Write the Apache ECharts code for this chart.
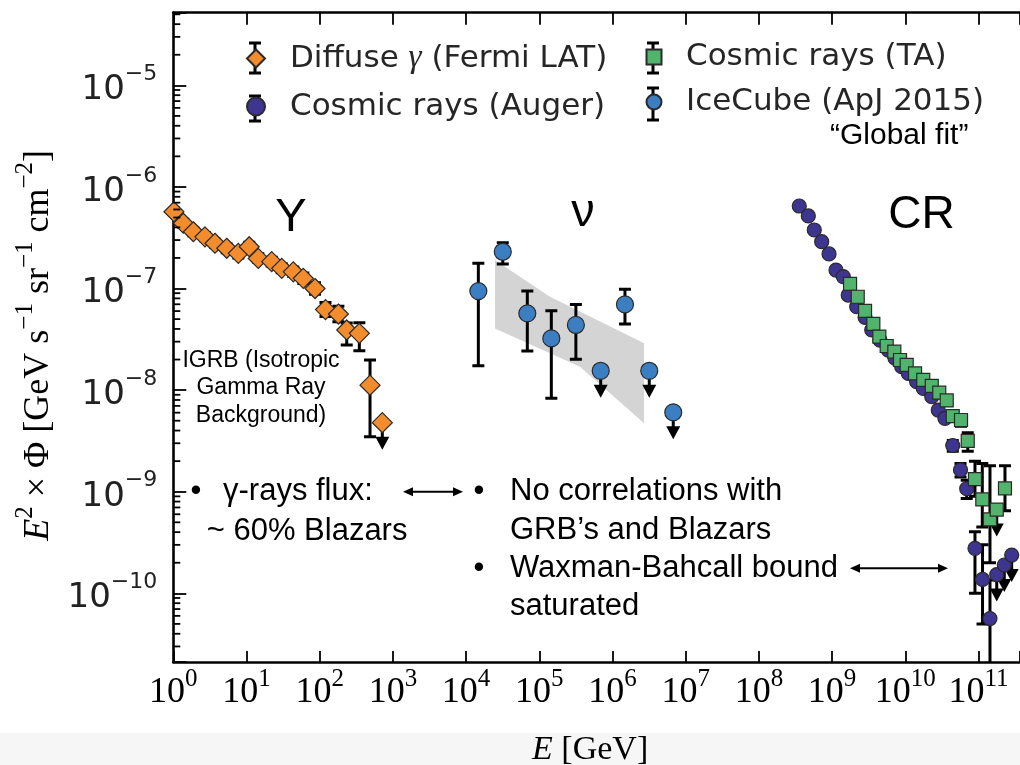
<!DOCTYPE html>
<html><head><meta charset="utf-8">
<script src="https://cdn.jsdelivr.net/npm/echarts@6/dist/echarts.min.js"></script>
<style>html,body{margin:0;padding:0;background:#fff}#c{width:1020px;height:765px}</style>
</head><body><div id="c"></div>
<script>
// ---------------- data (E in GeV, E^2 Phi in GeV s^-1 sr^-1 cm^-2) ----------------
const fermiE  = [1.02, 1.37, 1.88, 2.71, 3.71, 5.37, 7.73, 10.9, 14.5, 22.1, 30.3, 43.6, 59.7, 86.3, 120, 180, 234, 348, 487];
const fermiF  = [5.70e-7, 4.39e-7, 3.62e-7, 3.23e-7, 2.79e-7, 2.49e-7, 2.22e-7, 2.58e-7, 1.98e-7, 1.84e-7, 1.58e-7, 1.46e-7, 1.26e-7, 1.00e-7, 6.21e-8, 5.61e-8, 3.91e-8, 3.62e-8, 1.12e-8];
const fermiLo = [5.2e-7, 4.0e-7, 3.3e-7, 2.95e-7, 2.55e-7, 2.25e-7, 2.0e-7, 2.35e-7, 1.8e-7, 1.67e-7, 1.43e-7, 1.31e-7, 1.12e-7, 8.8e-8, 5.3e-8, 4.7e-8, 2.78e-8, 2.44e-8, 3.48e-9];
const fermiHi = [6.2e-7, 4.8e-7, 3.95e-7, 3.55e-7, 3.05e-7, 2.75e-7, 2.45e-7, 2.85e-7, 2.2e-7, 2.03e-7, 1.75e-7, 1.63e-7, 1.42e-7, 1.14e-7, 7.3e-8, 6.7e-8, 4.57e-8, 4.60e-8, 1.98e-8];
const fermiUlE = [717];
const fermiUlF = [4.78e-9];

const iceE  = [1.47e4, 3.17e4, 6.86e4, 1.46e5, 3.16e5, 1.48e6];
const iceF  = [9.44e-8, 2.30e-7, 5.70e-8, 3.23e-8, 4.38e-8, 6.98e-8];
const iceLo = [1.74e-8, 1.74e-7, 2.43e-8, 8.30e-9, 2.01e-8, 4.48e-8];
const iceHi = [1.77e-7, 2.82e-7, 9.44e-8, 6.05e-8, 6.98e-8, 9.82e-8];
const iceUlE = [6.90e5, 3.18e6, 6.76e6];
const iceUlF = [1.55e-8, 1.55e-8, 6.04e-9];

const fitUpE = [2.48e4, 1.40e5, 2.70e6];
const fitUpF = [1.91e-7, 8.3e-8, 2.89e-8];
const fitLoE = [2.48e4, 3.6e5, 2.70e6];
const fitLoF = [4.05e-8, 1.70e-8, 4.71e-9];

const augerE = [3.56e8, 4.73e8, 5.71e8, 7.21e8, 9.08e8, 1.13e9, 1.42e9, 1.66e9, 2.17e9, 2.82e9, 3.48e9, 4.51e9, 5.86e9, 7.23e9, 8.93e9, 1.10e10, 1.43e10, 1.76e10, 2.30e10, 2.82e10, 3.48e10, 4.45e10, 5.68e10, 6.90e10, 8.95e10, 1.135e11, 1.435e11];
const augerF = [6.49e-7, 5.18e-7, 3.77e-7, 2.89e-7, 2.19e-7, 1.52e-7, 1.31e-7, 8.63e-8, 6.62e-8, 5.21e-8, 3.91e-8, 3.11e-8, 2.48e-8, 2.06e-8, 1.70e-8, 1.46e-8, 1.21e-8, 1.04e-8, 8.61e-9, 6.37e-9, 5.27e-9, 2.85e-9, 1.64e-9, 1.07e-9, 2.77e-10, 1.37e-10, 5.65e-11];
const augerErrE  = [4.45e10, 5.68e10, 6.90e10, 8.95e10, 1.135e11, 1.435e11];
const augerErrLo = [2.5e-9, 1.4e-9, 8.6e-10, 1.0e-10, 5.0e-11, 1.0e-12];
const augerErrHi = [3.2e-9, 1.9e-9, 1.3e-9, 4.04e-10, 3.0e-10, 1.35e-10];
const augerUlE = [1.775e11, 2.25e11, 2.84e11];
const augerUlF = [1.53e-10, 1.90e-10, 2.38e-10];

const taE = [1.76e9, 2.24e9, 2.82e9, 3.66e9, 4.42e9, 5.57e9, 7.08e9, 8.47e9, 1.045e10, 1.36e10, 1.76e10, 2.30e10, 2.91e10, 3.68e10, 4.45e10, 5.77e10, 7.13e10, 8.95e10, 1.127e11, 1.435e11, 2.30e11];
const taF = [1.11e-7, 8.30e-8, 6.04e-8, 4.48e-8, 3.36e-8, 2.72e-8, 2.39e-8, 1.98e-8, 1.77e-8, 1.46e-8, 1.26e-8, 1.10e-8, 9.46e-9, 7.91e-9, 5.56e-9, 5.08e-9, 3.16e-9, 1.33e-9, 8.41e-10, 5.35e-10, 1.08e-9];
const taErrE  = [4.45e10, 5.77e10, 7.13e10, 8.95e10, 1.127e11, 1.435e11, 2.30e11];
const taErrLo = [4.9e-9, 4.4e-9, 2.5e-9, 9.0e-10, 4.5e-10, 2.0e-10, 6.5e-10];
const taErrHi = [6.1e-9, 5.6e-9, 3.8e-9, 2.0e-9, 1.9e-9, 1.8e-9, 1.8e-9];
const taUlE = [1.775e11];
const taUlF = [6.68e-10];

const xTickExps = [0,1,2,3,4,5,6,7,8,9,10,11];
const yTickExps = [-10,-9,-8,-7,-6,-5];
const seriesNames = ['Diffuse γ (Fermi LAT)', 'Cosmic rays (Auger)', 'Cosmic rays (TA)', 'IceCube (ApJ 2015)'];

// ---------------- helpers ----------------
const L = Math.log10;
const X_MIN = 0, X_MAX = 11.567, Y_MIN = -10.676, Y_MAX = -4.285;
const SANS = '"Liberation Sans", Arial, sans-serif';
const SERIF = '"Liberation Serif", "DejaVu Serif", serif';
const DJ = '"DejaVu Sans", sans-serif';

function pts(E, F) { return E.map((e, i) => [L(e), L(F[i])]); }

function errSeries(E, lo, hi, z) {
  return {
    type: 'custom', silent: true, clip: true, z: z,
    data: E.map((e, i) => [L(e), L(lo[i]), L(hi[i])]),
    encode: { x: 0, y: [1, 2] },
    renderItem: function (params, api) {
      const x = api.value(0);
      const p1 = api.coord([x, api.value(1)]);
      const p2 = api.coord([x, api.value(2)]);
      const cw = 6, st = { stroke: '#000', lineWidth: 3 };
      return { type: 'group', children: [
        { type: 'line', shape: { x1: p1[0], y1: p1[1], x2: p2[0], y2: p2[1] }, style: st },
        { type: 'line', shape: { x1: p1[0] - cw, y1: p1[1], x2: p1[0] + cw, y2: p1[1] }, style: st },
        { type: 'line', shape: { x1: p2[0] - cw, y1: p2[1], x2: p2[0] + cw, y2: p2[1] }, style: st }
      ]};
    }
  };
}
function ulSeries(E, F, z) {
  return {
    type: 'custom', silent: true, clip: true, z: z,
    data: pts(E, F), encode: { x: 0, y: 1 },
    renderItem: function (params, api) {
      const p = api.coord([api.value(0), api.value(1)]);
      return { type: 'group', children: [
        { type: 'line', shape: { x1: p[0], y1: p[1], x2: p[0], y2: p[1] + 16 }, style: { stroke: '#000', lineWidth: 3 } },
        { type: 'polygon', shape: { points: [[p[0] - 7, p[1] + 14], [p[0] + 7, p[1] + 14], [p[0], p[1] + 27]] }, style: { fill: '#000' } }
      ]};
    }
  };
}
function scatter(name, E, F, symbol, size, color, z) {
  return {
    type: 'scatter', name: name, data: pts(E, F), symbol: symbol, symbolSize: size, z: z,
    itemStyle: { color: color, borderColor: '#2a2a2a', borderWidth: 1.2, opacity: 1 },
    emphasis: { disabled: true }
  };
}

const bandPoly = pts(fitUpE, fitUpF).concat(pts(fitLoE, fitLoF).reverse());
const bandSeries = {
  type: 'custom', silent: true, clip: true, z: 1,
  data: bandPoly, encode: { x: 0, y: 1 },
  renderItem: function (params, api) {
    if (params.dataIndex !== 0) return null;
    const poly = bandPoly.map(p => api.coord(p));
    return { type: 'polygon', shape: { points: poly }, style: { fill: '#d4d4d4' } };
  }
};

const minorVals = [];
for (let n = -11; n <= -5; n++) for (let k = 2; k <= 9; k++) {
  const v = n + L(k);
  if (v > Y_MIN && v < Y_MAX) minorVals.push([X_MIN, v]);
}
const minorSeries = {
  type: 'custom', silent: true, z: 6, data: minorVals, encode: { x: 0, y: 1 },
  renderItem: function (params, api) {
    const p = api.coord([api.value(0), api.value(1)]);
    return { type: 'line', shape: { x1: p[0], y1: p[1], x2: p[0] + 7, y2: p[1] }, style: { stroke: '#000', lineWidth: 1.8 } };
  }
};

function errbarG(x, y1, y2) {
  const st = { stroke: '#000', lineWidth: 3 };
  return [
    { type: 'line', shape: { x1: x, y1: y1, x2: x, y2: y2 }, style: st, z: 1 },
    { type: 'line', shape: { x1: x - 6, y1: y1, x2: x + 6, y2: y1 }, style: st, z: 1 },
    { type: 'line', shape: { x1: x - 6, y1: y2, x2: x + 6, y2: y2 }, style: st, z: 1 }
  ];
}
function txt(x, y, text, size, align, extra) {
  return Object.assign({ type: 'text', x: x, y: y, z: 20, silent: true,
    style: { text: text, fontFamily: SANS, fontSize: size, fill: '#000', align: align || 'left', verticalAlign: 'middle' } }, extra || {});
}
function dblArrow(x1, x2, y) {
  return [
    { type: 'line', shape: { x1: x1 + 6, y1: y, x2: x2 - 6, y2: y }, style: { stroke: '#000', lineWidth: 2 }, z: 20 },
    { type: 'polygon', shape: { points: [[x1, y], [x1 + 10, y - 4.5], [x1 + 10, y + 4.5]] }, style: { fill: '#000' }, z: 20 },
    { type: 'polygon', shape: { points: [[x2, y], [x2 - 10, y - 4.5], [x2 - 10, y + 4.5]] }, style: { fill: '#000' }, z: 20 }
  ];
}

const xLabelRich = {
  b: { fontFamily: SERIF, fontSize: 36, color: '#000', lineHeight: 44, verticalAlign: 'bottom' },
  s: { fontFamily: SERIF, fontSize: 25, color: '#000', lineHeight: 25, verticalAlign: 'top' }
};
const yLabelRich = {
  b: { fontFamily: DJ, fontSize: 34, color: '#222', lineHeight: 44, verticalAlign: 'bottom' },
  s: { fontFamily: DJ, fontSize: 22, color: '#222', lineHeight: 22, verticalAlign: 'top' }
};
const isInt = v => Math.abs(v - Math.round(v)) < 1e-6;

const legendRich = {
  sp: { width: 20 },
  t: { fontFamily: DJ, fontSize: 31, color: '#262626', lineHeight: 32 },
  g: { fontFamily: SERIF, fontStyle: 'italic', fontSize: 33, color: '#262626', lineHeight: 32 }
};
function legendFmt(name) {
  if (name.indexOf('γ') >= 0) {
    const parts = name.split('γ');
    return '{sp| }{t|' + parts[0] + '}{g|γ}{t|' + parts[1] + '}';
  }
  return '{sp| }{t|' + name + '}';
}

const option = {
  backgroundColor: '#ffffff',
  animation: false,
  grid: { left: 173.3, right: 0, top: 12.7, bottom: 103, outerBoundsMode: 'none', containLabel: false },
  xAxis: [{
    type: 'value', min: X_MIN, max: X_MAX, interval: 1, position: 'bottom',
    axisLine: { show: true, onZero: false, lineStyle: { color: '#000', width: 2.6 } },
    axisTick: { show: true, inside: true, length: 11, lineStyle: { color: '#000', width: 1.8 } },
    splitLine: { show: false },
    axisLabel: { margin: 5, rich: xLabelRich, formatter: v => isInt(v) && xTickExps.indexOf(Math.round(v)) >= 0 ? '{b|10}{s|' + Math.round(v) + '}' : '' },
    name: '{i|E}{t| [GeV]}', nameLocation: 'middle', nameGap: 71,
    nameTextStyle: { padding: [0, 13, 0, 0], rich: {
      i: { fontFamily: SERIF, fontStyle: 'italic', fontSize: 34, color: '#000', lineHeight: 34 },
      t: { fontFamily: SERIF, fontSize: 34, color: '#000', lineHeight: 34 } } }
  }, {
    type: 'value', min: X_MIN, max: X_MAX, interval: 1, position: 'top',
    axisLine: { show: true, onZero: false, lineStyle: { color: '#000', width: 2.6 } },
    axisTick: { show: true, inside: true, length: 12, lineStyle: { color: '#000', width: 1.8 } },
    axisLabel: { show: false }, splitLine: { show: false }
  }],
  yAxis: [{
    type: 'value', min: Y_MIN, max: Y_MAX, splitNumber: 6, minInterval: 1, maxInterval: 1,
    axisLine: { show: true, onZero: false, lineStyle: { color: '#000', width: 2.6 } },
    axisTick: { show: true, inside: true, length: 13, lineStyle: { color: '#000', width: 1.8 } },
    splitLine: { show: false },
    axisLabel: { margin: 16, rich: yLabelRich, formatter: v => isInt(v) && yTickExps.indexOf(Math.round(v)) >= 0 ? '{b|10}{s|' + String(Math.round(v)).replace('-', '−') + '}' : '' },
    name: '{i|E}{s|2}{t| × Φ [GeV s}{s|−1}{t| sr}{s|−1}{t| cm}{s|−2}{t|]}',
    nameLocation: 'middle', nameRotate: 90, nameGap: 114,
    nameTextStyle: { padding: [0, 16, 0, 0], rich: {
      i: { fontFamily: SERIF, fontStyle: 'italic', fontSize: 36, color: '#000', lineHeight: 44, verticalAlign: 'bottom' },
      t: { fontFamily: SERIF, fontSize: 36, color: '#000', lineHeight: 44, verticalAlign: 'bottom' },
      s: { fontFamily: SERIF, fontSize: 25, color: '#000', lineHeight: 25, verticalAlign: 'top' } } }
  }],
  legend: [{
    data: [seriesNames[0], seriesNames[1]], orient: 'vertical', left: 246, top: 42, padding: 0,
    itemWidth: 18, itemHeight: 18, itemGap: 16, selectedMode: false, z: 10,
    formatter: legendFmt, textStyle: { rich: legendRich }
  }, {
    data: [seriesNames[2], seriesNames[3]], orient: 'vertical', left: 645.5, top: 41.5, padding: 0,
    itemWidth: 15, itemHeight: 15, itemGap: 14, selectedMode: false, z: 10,
    formatter: legendFmt, textStyle: { rich: Object.assign({}, legendRich, { sp: { width: 19.5 } }) }
  }],
  series: [
    bandSeries,
    minorSeries,
    errSeries(fermiE, fermiLo, fermiHi, 2),
    ulSeries(fermiUlE, fermiUlF, 2),
    errSeries(iceE, iceLo, iceHi, 2),
    ulSeries(iceUlE, iceUlF, 2),
    errSeries(augerErrE, augerErrLo, augerErrHi, 2),
    ulSeries(augerUlE, augerUlF, 2),
    errSeries(taErrE, taErrLo, taErrHi, 2),
    ulSeries(taUlE, taUlF, 2),
    scatter(seriesNames[0], fermiE.concat(fermiUlE), fermiF.concat(fermiUlF), 'diamond', 20, '#f28c2c', 4),
    scatter(seriesNames[1], augerE.concat(augerUlE), augerF.concat(augerUlF), 'circle', 14, '#3d3590', 4),
    scatter(seriesNames[2], taE.concat(taUlE), taF.concat(taUlF), 'rect', 13, '#52b46c', 5),
    scatter(seriesNames[3], iceE.concat(iceUlE), iceF.concat(iceUlF), 'circle', 17, '#3b7fc2', 4)
  ],
  graphic: [
    { type: 'rect', shape: { x: 0, y: 733, width: 1020, height: 32 }, style: { fill: '#f6f6f6' }, z: -10, silent: true }
  ].concat(
    errbarG(255, 43, 73), errbarG(255, 96, 121), errbarG(653, 43, 73), errbarG(653, 88, 120),
    [
      txt(291, 218, 'Y', 47, 'center'),
      txt(583, 213, 'ν', 47, 'center'),
      txt(921.5, 215, 'CR', 46, 'center'),
      txt(261, 388, 'IGRB (Isotropic\nGamma Ray\nBackground)', 23, 'center', { style: { text: 'IGRB (Isotropic\nGamma Ray\nBackground)', fontFamily: SANS, fontSize: 23, lineHeight: 27.5, fill: '#000', align: 'center', verticalAlign: 'middle' } }),
      txt(830, 136, '“Global fit”', 30, 'left'),
      txt(196, 491.7, '•', 31, 'center'),
      txt(223, 491.7, 'γ-rays flux:', 31, 'left'),
      txt(206.7, 531.7, '~ 60% Blazars', 31, 'left'),
      txt(479, 491.7, '•', 31, 'center'),
      txt(510, 491.7, 'No correlations with', 31, 'left'),
      txt(510, 530, 'GRB’s and Blazars', 31, 'left'),
      txt(479, 568.3, '•', 31, 'center'),
      txt(510, 568.3, 'Waxman-Bahcall bound', 31, 'left'),
      txt(510, 606.7, 'saturated', 31, 'left')
    ],
    dblArrow(403, 463, 491.7), dblArrow(850, 948, 568.3)
  )
};

const chart = echarts.init(document.getElementById('c'), null, { renderer: 'canvas', width: 1020, height: 765 });
chart.setOption(option);
</script>
</body></html>
